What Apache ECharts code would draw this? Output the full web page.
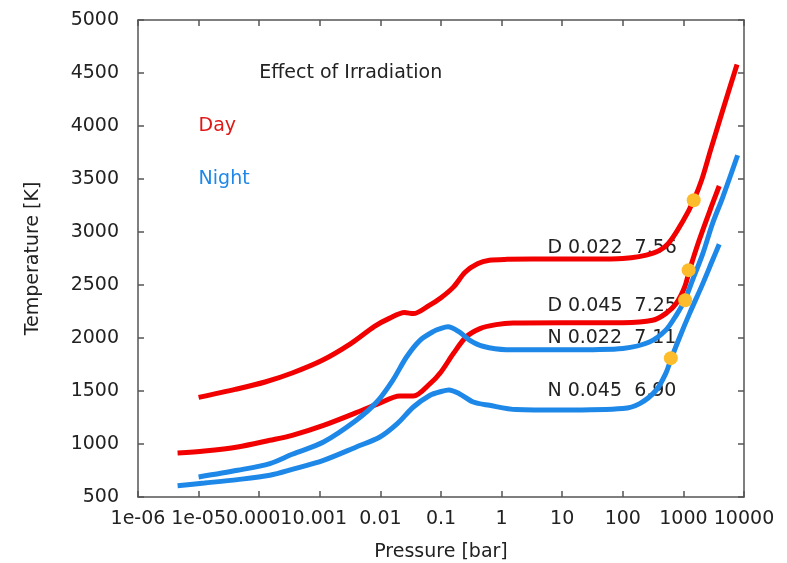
<!DOCTYPE html>
<html>
<head>
<meta charset="utf-8">
<script src="https://cdn.jsdelivr.net/npm/echarts@6/dist/echarts.min.js"></script>
<style>html,body{margin:0;padding:0;background:#fff}#c{width:787px;height:563px}</style>
</head>
<body>
<div id="c"></div>
<script>
// ---- data (pressure [bar], temperature [K]) ----
const d022P = [1e-5, 4e-5, 1.25e-4, 3.5e-4, 1.1e-3, 3.2e-3, 8e-3, 0.014, 0.025, 0.035, 0.063, 0.1, 0.16, 0.25, 0.4, 0.63, 1.25, 3.2, 10, 32, 100, 316, 560, 1000, 1480, 2000, 2800, 4470, 7670];
const d022T = [1440, 1515, 1585, 1670, 1790, 1945, 2110, 2185, 2240, 2230, 2305, 2380, 2480, 2620, 2700, 2733, 2742, 2745, 2745, 2745, 2750, 2800, 2890, 3110, 3300, 3490, 3770, 4150, 4580];

const d045P = [4.5e-6, 1.25e-5, 4.4e-5, 1.5e-4, 3.5e-4, 1.15e-3, 4e-3, 8.7e-3, 0.021, 0.035, 0.066, 0.1, 0.16, 0.26, 0.44, 0.81, 1.55, 10, 100, 310, 510, 760, 1050, 1260, 1820, 2880, 3900];
const d045T = [915, 934, 972, 1035, 1082, 1176, 1296, 1374, 1453, 1453, 1570, 1680, 1853, 2010, 2089, 2126, 2142, 2145, 2145, 2167, 2230, 2325, 2481, 2639, 2922, 3236, 3434];

const n022P = [1e-5, 4.4e-5, 1.5e-4, 3.5e-4, 1.15e-3, 4e-3, 8.7e-3, 0.016, 0.027, 0.045, 0.074, 0.1, 0.13, 0.2, 0.3, 0.49, 1.2, 10, 32, 100, 275, 510, 760, 1050, 1410, 2090, 3020, 4470, 7850];
const n022T = [689, 752, 815, 903, 1019, 1224, 1396, 1601, 1821, 1978, 2060, 2090, 2105, 2057, 1978, 1922, 1890, 1888, 1890, 1900, 1962, 2073, 2214, 2356, 2544, 2796, 3079, 3330, 3724];

const n045P = [4.5e-6, 1.25e-5, 4.4e-5, 1.5e-4, 3.5e-4, 1.15e-3, 4e-3, 9.8e-3, 0.019, 0.035, 0.066, 0.1, 0.135, 0.2, 0.34, 0.63, 1.74, 10, 100, 190, 355, 510, 630, 870, 1260, 2090, 3020, 3900];
const n045T = [607, 632, 664, 705, 760, 846, 972, 1066, 1192, 1349, 1460, 1495, 1510, 1475, 1396, 1365, 1325, 1320, 1334, 1381, 1507, 1664, 1806, 2010, 2230, 2513, 2733, 2884];

const dotP = [1480, 1220, 1070, 620];
const dotT = [3300, 2640, 2356, 1810];

const xTickLabels = ['1e-06', '1e-05', '0.0001', '0.001', '0.01', '0.1', '1', '10', '100', '1000', '10000'];
const yTicks = [500, 1000, 1500, 2000, 2500, 3000, 3500, 4000, 4500, 5000];

const noteText = ['Effect of Irradiation', 'Day', 'Night', 'D 0.022  7.56', 'D 0.045  7.25', 'N 0.022  7.11', 'N 0.045  6.90'];
const noteP = [1e-4, 1e-5, 1e-5, 5.7, 5.7, 5.7, 5.7];
const noteT = [4500, 4000, 3500, 2850, 2300, 2000, 1500];

// ---- styles ----
const RED = '#f20000', BLUE = '#1e88e8', DOT = '#fcbc2c', TXT = '#222';
const noteColor = [TXT, '#e01818', '#1e88e8', TXT, TXT, TXT, TXT];
const FONT = 'DejaVu Sans';
const FS = 19;
const zip = (a, b) => a.map((v, i) => [v, b[i]]);

const chart = echarts.init(document.getElementById('c'), null, {renderer: 'canvas'});
const axisLine = {show: true, lineStyle: {color: '#555', width: 1.5}};
const tick = {show: true, inside: true, length: 6, lineStyle: {color: '#555', width: 1.5}};
const xCommon = {type: 'log', logBase: 10, min: 1e-6, max: 1e4, interval: 1, splitNumber: 10, splitLine: {show: false}, minorTick: {show: false}};
const yCommon = {type: 'value', min: yTicks[0], max: yTicks[yTicks.length - 1], interval: 500, splitLine: {show: false}};

function lineSeries(p, t, color) {
  return {type: 'line', data: zip(p, t), showSymbol: false, smooth: 0.3, z: 3,
    lineStyle: {color: color, width: 5}, itemStyle: {color: color}, animation: false};
}

chart.setOption({
  animation: false,
  grid: {left: 138, right: 43, top: 20, bottom: 66, containLabel: false, outerBoundsMode: 'none'},
  xAxis: [
    Object.assign({}, xCommon, {position: 'bottom', axisLine: axisLine, axisTick: tick,
      name: 'Pressure [bar]', nameLocation: 'middle', nameGap: 46,
      nameTextStyle: {fontFamily: FONT, fontSize: FS, color: TXT},
      axisLabel: {show: true, margin: 13, fontFamily: FONT, fontSize: FS, color: TXT, hideOverlap: false,
        showMinLabel: true, showMaxLabel: true,
        formatter: v => xTickLabels[Math.round(Math.log10(v)) + 6]}}),
    Object.assign({}, xCommon, {position: 'top', axisLine: axisLine, axisTick: tick, axisLabel: {show: false}})
  ],
  yAxis: [
    Object.assign({}, yCommon, {position: 'left', axisLine: axisLine, axisTick: tick,
      name: 'Temperature [K]', nameLocation: 'middle', nameGap: 95, nameRotate: 90,
      nameTextStyle: {fontFamily: FONT, fontSize: FS, color: TXT},
      axisLabel: {margin: 19, fontFamily: FONT, fontSize: FS, color: TXT, showMinLabel: true, showMaxLabel: true,
        formatter: v => String(v)}}),
    Object.assign({}, yCommon, {position: 'right', axisLine: axisLine, axisTick: tick, axisLabel: {show: false}})
  ],
  series: [
    lineSeries(d022P, d022T, RED),
    lineSeries(d045P, d045T, RED),
    lineSeries(n022P, n022T, BLUE),
    lineSeries(n045P, n045T, BLUE),
    {type: 'scatter', data: zip(dotP, dotT), symbol: 'circle', symbolSize: 14, z: 5,
      itemStyle: {color: DOT, opacity: 1}, animation: false}
  ]
});

const graphics = noteText.map((txt, i) => {
  const pt = chart.convertToPixel({xAxisIndex: 0, yAxisIndex: 0}, [noteP[i], noteT[i]]);
  return {type: 'text', x: pt[0], y: pt[1], z: 1, silent: true,
    style: {text: txt, fill: noteColor[i], font: FS + 'px "' + FONT + '"', textAlign: 'left', textVerticalAlign: 'middle'}};
});
chart.setOption({graphic: graphics});
</script>
</body>
</html>
